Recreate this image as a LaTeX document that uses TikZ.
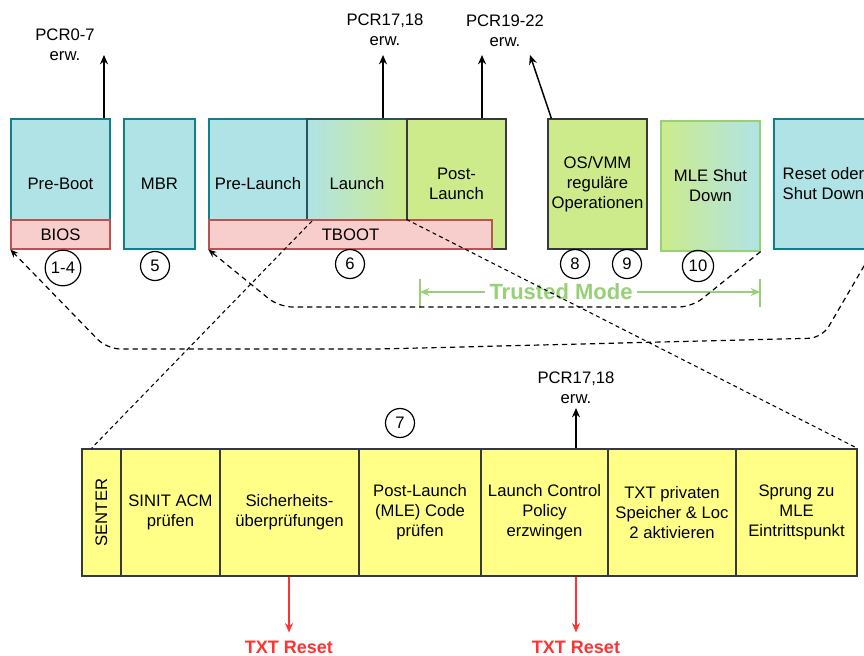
\documentclass[tikz,border=0pt]{standalone}
\usepackage{fontspec}
\setmainfont{Liberation Sans}
\usetikzlibrary{arrows.meta}

\definecolor{cyanfill}{HTML}{B0E3E6}
\definecolor{cyanline}{HTML}{0E8088}
\definecolor{greenfill}{HTML}{CDEB8B}
\definecolor{darkline}{HTML}{36393D}
\definecolor{redfill}{HTML}{F8CECC}
\definecolor{redline}{HTML}{B85450}
\definecolor{yellowfill}{HTML}{FFFF88}
\definecolor{tmgreen}{HTML}{97D077}
\definecolor{resetred}{HTML}{FF3333}

\tikzset{
  stage/.style={draw, line width=0.9pt, minimum height=97.5pt, minimum width=74.25pt, inner sep=1pt, align=center},
  cyanstage/.style={stage, fill=cyanfill, draw=cyanline},
  greenstage/.style={stage, fill=greenfill, draw=darkline},
  band/.style={draw=redline, fill=redfill, line width=0.9pt, minimum height=21.75pt, inner sep=1pt},
  substep/.style={draw=darkline, fill=yellowfill, line width=0.9pt, minimum height=95.25pt, align=center, inner sep=1pt},
  numcirc/.style={circle, draw, line width=0.9pt, minimum size=21.75pt, inner sep=2.5pt},
  lbl/.style={align=center, inner sep=0pt},
  pcrarrow/.style={line width=1.1pt, -{Stealth[length=7pt,width=6pt]}},
  resetarrow/.style={resetred, line width=0.8pt, -{Stealth[length=7pt,width=6pt]}},
  resetlbl/.style={resetred, inner sep=0pt, font=\fontsize{13.5}{16}\selectfont\bfseries},
  ret/.style={dash pattern=on 4pt off 3pt, line width=0.9pt, rounded corners=10pt, -{Stealth[length=6pt,width=5pt]}},
  zoomline/.style={dash pattern=on 3pt off 2.5pt, line width=0.8pt},
  tmarrow/.style={tmgreen, line width=1pt, -{Stealth[length=7pt,width=6pt]}},
}

\begin{document}
\begin{tikzpicture}[x=0.75pt,y=-0.75pt,font=\fontsize{12.5}{15}\selectfont]
\clip (0,0) rectangle (864,656);

% obere Reihe: Boot-Phasen
\node[cyanstage] (preboot) at (60.5,184) {Pre-Boot};
\node[band, minimum width=74.25pt] (bios) at (60.5,234.5) {BIOS};
\node[cyanstage, minimum width=53.25pt] (mbr) at (159.5,184) {MBR};
\node[cyanstage, minimum width=73.5pt] (prelaunch) at (258,184) {Pre-Launch};
\node[stage, draw=darkline!60!cyanline, left color=cyanfill, right color=greenfill, minimum width=75pt] (launch) at (357,184) {Launch};
\node[greenstage] (postlaunch) at (456.5,184) {Post-\\Launch};
\node[band, minimum width=212.25pt] (tboot) at (350.5,234.5) {TBOOT};
\node[greenstage] (osvmm) at (597.5,184) {OS/VMM\\regul\"are\\Operationen};
\node[stage, draw=tmgreen, left color=greenfill, right color=cyanfill] (mleshut) at (710.5,186) {MLE Shut\\Down};
\node[cyanstage] (reset) at (823.5,184) {Reset oder\\Shut Down};

% Nummern
\foreach \x/\y/\t in {63/268/1-4,155/266/5,350/264/6,575/264/8,627/264/9,698/266/10,400/423/7}
    \node[numcirc] (num\t) at (\x,\y) {\t};

% PCR-Erweiterungen
\coordinate (pcr07) at (104,55);
\coordinate (pcr1718) at (383,55);
\coordinate (pcr1922a) at (482,55);
\coordinate (pcr1922b) at (530,55);
\node[lbl] (pcr07lbl) at (65,45) {PCR0-7\\erw.};
\node[lbl] (pcr1718lbl) at (385,30) {PCR17,18\\erw.};
\node[lbl] (pcr1922lbl) at (505,31) {PCR19-22\\erw.};
\draw[pcrarrow] (preboot.north -| pcr07) -- (pcr07);
\draw[pcrarrow] (launch.north -| pcr1718) -- (pcr1718);
\draw[pcrarrow] (postlaunch.north -| pcr1922a) -- (pcr1922a);
\draw[pcrarrow] ([xshift=3pt]osvmm.north west) -- (pcr1922b);

% Trusted Mode
\coordinate (tmL) at (420,292);
\coordinate (tmR) at (760,292);
\node[tmgreen, inner sep=3pt, font=\fontsize{16.5}{20}\selectfont\bfseries] (tm) at (561,292) {Trusted Mode};
\draw[tmarrow] (tm) -- (tmL);
\draw[tmarrow] (tm) -- (tmR);
\draw[tmgreen, line width=1pt] ([yshift=10pt]tmL) -- ([yshift=-11pt]tmL);
\draw[tmgreen, line width=1pt] ([yshift=10pt]tmR) -- ([yshift=-11pt]tmR);

% untere Reihe: Launch-Schritte
\node[substep, minimum width=29.25pt] (senter) at (101.5,512.5) {\rotatebox{90}{SENTER}};
\foreach \x/\w/\nm/\txt in {170.5/74.25/sinit/{SINIT ACM\\pr\"ufen},
    289.5/104.25/sicher/{Sicherheits-\\\"uberpr\"ufungen},
    420/91.5/mlecode/{Post-Launch\\(MLE) Code\\pr\"ufen},
    544.5/95.25/lcp/{Launch Control\\Policy\\erzwingen},
    672/96/txtmem/{TXT privaten\\Speicher \& Loc\\2 aktivieren},
    796.5/90.75/sprung/{Sprung zu\\MLE\\Eintrittspunkt}}
    \node[substep, minimum width=\w pt] (\nm) at (\x,512.5) {\txt};

\coordinate (pcrbot) at (576,408);
\node[lbl] (pcrbotlbl) at (576,388) {PCR17,18\\erw.};
\draw[pcrarrow] (lcp.north -| pcrbot) -- (pcrbot);

% TXT Reset
\node[resetlbl] (rst1) at (289,647) {TXT Reset};
\node[resetlbl] (rst2) at (576,647) {TXT Reset};
\draw[resetarrow] (sicher.south -| rst1) -- ([yshift=6pt]rst1.north);
\draw[resetarrow] (lcp.south -| rst2) -- ([yshift=6pt]rst2.north);

% Zoom auf Launch
\coordinate (zoomL) at (312,221);
\draw[zoomline] (zoomL) -- ([xshift=7.5pt]senter.north west);
\draw[zoomline] (postlaunch.west |- tboot.north) -- (sprung.north east);

% Ruecksprung
\draw[ret] (mleshut.south east) -- (692,307) -- (279,307) -- (tboot.south west);
\draw[ret] (reset.south east) -- (822,338) -- (380,349) -- (107,349) -- (bios.south west);
\end{tikzpicture}
\end{document}
